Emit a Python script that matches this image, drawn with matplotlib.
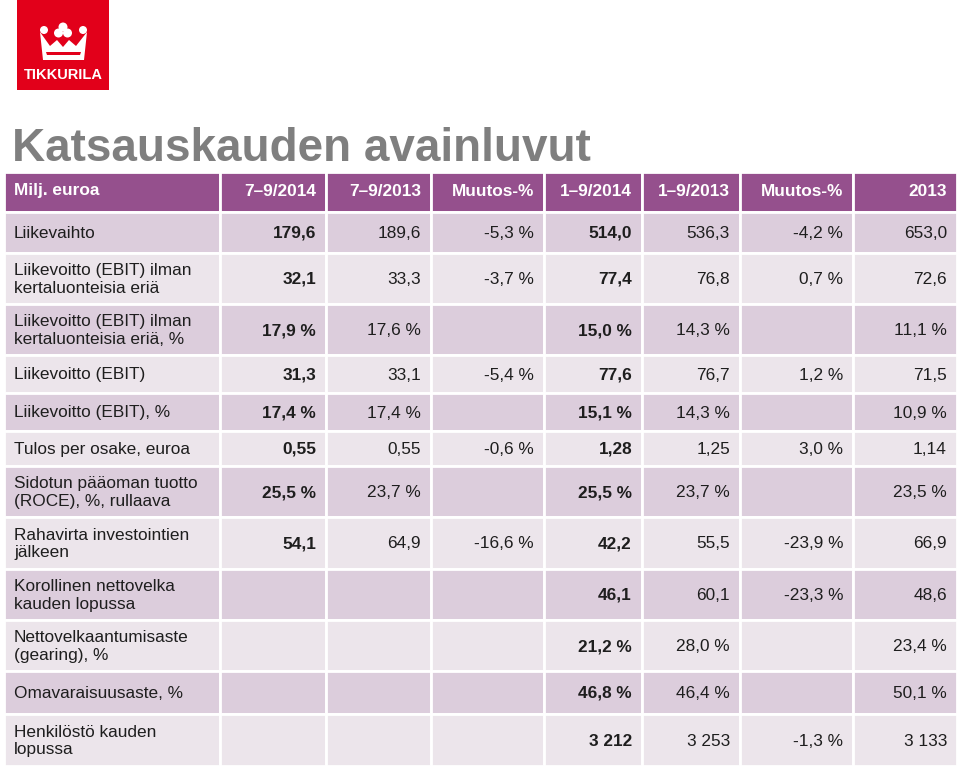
import matplotlib.pyplot as plt
from matplotlib.patches import Rectangle, Polygon, Circle

plt.rcParams['font.family'] = ['Liberation Sans', 'DejaVu Sans']

######### Data ######################
title = 'Katsauskauden avainluvut'
headers = ['Milj. euroa', '7–9/2014', '7–9/2013', 'Muutos-%', '1–9/2014', '1–9/2013', 'Muutos-%', '2013']

row_labels = ['Liikevaihto',
              'Liikevoitto (EBIT) ilman\nkertaluonteisia eriä',
              'Liikevoitto (EBIT) ilman\nkertaluonteisia eriä, %',
              'Liikevoitto (EBIT)',
              'Liikevoitto (EBIT), %',
              'Tulos per osake, euroa',
              'Sidotun pääoman tuotto\n(ROCE), %, rullaava',
              'Rahavirta investointien\njälkeen',
              'Korollinen nettovelka\nkauden lopussa',
              'Nettovelkaantumisaste\n(gearing), %',
              'Omavaraisuusaste, %',
              'Henkilöstö kauden\nlopussa']

q3_2014 = ['179,6', '32,1', '17,9 %', '31,3', '17,4 %', '0,55', '25,5 %', '54,1', '', '', '', '']
q3_2013 = ['189,6', '33,3', '17,6 %', '33,1', '17,4 %', '0,55', '23,7 %', '64,9', '', '', '', '']
q3_change = ['-5,3 %', '-3,7 %', '', '-5,4 %', '', '-0,6 %', '', '-16,6 %', '', '', '', '']
ytd_2014 = ['514,0', '77,4', '15,0 %', '77,6', '15,1 %', '1,28', '25,5 %', '42,2', '46,1', '21,2 %', '46,8 %', '3 212']
ytd_2013 = ['536,3', '76,8', '14,3 %', '76,7', '14,3 %', '1,25', '23,7 %', '55,5', '60,1', '28,0 %', '46,4 %', '3 253']
ytd_change = ['-4,2 %', '0,7 %', '', '1,2 %', '', '3,0 %', '', '-23,9 %', '-23,3 %', '', '', '-1,3 %']
fy_2013 = ['653,0', '72,6', '11,1 %', '71,5', '10,9 %', '1,14', '23,5 %', '66,9', '48,6', '23,4 %', '50,1 %', '3 133']

columns = [q3_2014, q3_2013, q3_change, ytd_2014, ytd_2013, ytd_change, fy_2013]
bold_cols = [0, 3]   # current year columns in bold

######### Layout (pixels) ######################
col_edges = [4, 220, 326, 431, 544, 642, 740, 853, 957]
row_edges = [172, 212, 253, 304, 355, 393, 431, 466, 517, 569, 620, 671, 714, 766]

header_color = '#95508d'
dark_row = '#dccddc'
light_row = '#ece5eb'
text_color = '#1e1e1e'
fs = 12.4

fig = plt.figure(figsize=(9.6, 7.68), dpi=100)
ax = fig.add_axes([0, 0, 1, 1])
ax.set_xlim(0, 960)
ax.set_ylim(768, 0)
ax.axis('off')

# Logo
ax.add_patch(Rectangle((17, 0), 92, 90, color='#e2001a', lw=0))
crown = Polygon([(40, 32), (50, 46), (57, 40), (63, 47), (69, 40), (76, 46), (87, 32),
                 (84, 60), (43, 60)], closed=True, color='white', lw=0)
ax.add_patch(crown)
for cx, cy, r in [(44, 30, 4), (83, 30, 4), (63, 27, 4.5), (58.5, 33, 4.5), (67.5, 33, 4.5)]:
    ax.add_patch(Circle((cx, cy), r, color='white', lw=0))
ax.add_patch(Polygon([(46, 52), (81, 52), (80, 55), (47, 55)], closed=True, color='#e2001a', lw=0))
ax.text(63.5, 75, 'TIKKURILA', color='white', fontsize=10.5, fontweight='bold',
        ha='center', va='center')

# Title
ax.text(12, 161, title, color='#7f7f7f', fontsize=33, fontweight='bold', ha='left', va='baseline')

# Header row
for j in range(len(headers)):
    x0, x1 = col_edges[j], col_edges[j + 1]
    ax.add_patch(Rectangle((x0, row_edges[0]), x1 - x0, row_edges[1] - row_edges[0],
                           facecolor=header_color, edgecolor='white', lw=2))
    yc = (row_edges[0] + row_edges[1]) / 2 - 1
    if j == 0:
        ax.text(x0 + 10, yc, headers[j], color='white', fontsize=fs, fontweight='bold', ha='left', va='center')
    else:
        ax.text(x1 - 10, yc, headers[j], color='white', fontsize=fs, fontweight='bold', ha='right', va='center')

# Body rows
for i, label in enumerate(row_labels):
    y0, y1 = row_edges[i + 1], row_edges[i + 2]
    yc = (y0 + y1) / 2 + 1
    bg = dark_row if i % 2 == 0 else light_row
    for j in range(len(headers)):
        x0, x1 = col_edges[j], col_edges[j + 1]
        ax.add_patch(Rectangle((x0, y0), x1 - x0, y1 - y0, facecolor=bg, edgecolor='white', lw=2))
    ax.text(col_edges[0] + 10, yc, label, color=text_color, fontsize=fs, ha='left', va='center',
            linespacing=1.2)
    for k, col in enumerate(columns):
        ax.text(col_edges[k + 2] - 10, yc, col[i], color=text_color, fontsize=fs,
                fontweight='bold' if k in bold_cols else 'normal', ha='right', va='center')

fig.savefig('out.png', dpi=100)
